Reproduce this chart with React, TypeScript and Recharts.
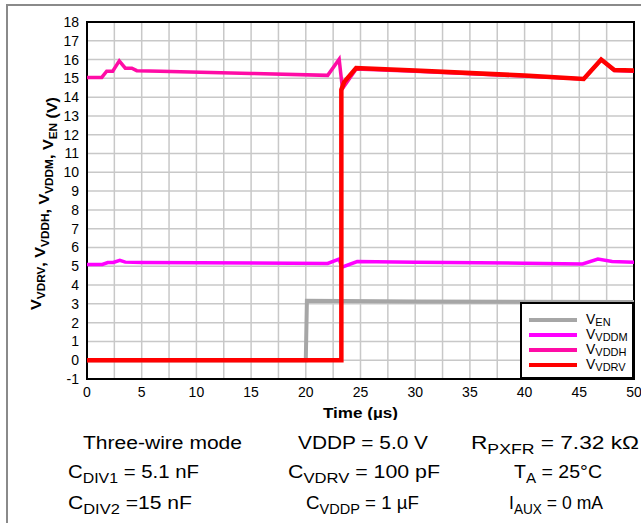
import { CartesianGrid, Label, Line, LineChart, ReferenceArea, XAxis, YAxis } from 'recharts'

// time axis, µs
const timeTicks = [0, 2.5, 5, 7.5, 10, 12.5, 15, 17.5, 20, 22.5, 25, 27.5, 30, 32.5, 35, 37.5, 40, 42.5, 45, 47.5, 50]
const voltTicks = [-1, 0, 1, 2, 3, 4, 5, 6, 7, 8, 9, 10, 11, 12, 13, 14, 15, 16, 17, 18]

const venPoints = [
  { t: 0, v: 0 }, { t: 20, v: 0 }, { t: 20.1, v: 3.16 }, { t: 30, v: 3.13 }, { t: 50, v: 3.1 },
]

const vddmPoints = [
  { t: 0, v: 5.1 }, { t: 1.4, v: 5.1 }, { t: 1.9, v: 5.2 }, { t: 2.4, v: 5.2 }, { t: 3.0, v: 5.32 },
  { t: 3.5, v: 5.22 }, { t: 5, v: 5.2 }, { t: 22, v: 5.15 }, { t: 23.05, v: 5.38 }, { t: 23.3, v: 4.95 },
  { t: 24.7, v: 5.25 }, { t: 30, v: 5.22 }, { t: 40, v: 5.16 }, { t: 45.3, v: 5.12 }, { t: 46.7, v: 5.38 },
  { t: 48, v: 5.25 }, { t: 50, v: 5.22 },
]

const vddhPoints = [
  { t: 0, v: 15.05 }, { t: 1.35, v: 15.05 }, { t: 1.8, v: 15.38 }, { t: 2.35, v: 15.38 }, { t: 2.95, v: 15.93 },
  { t: 3.5, v: 15.54 }, { t: 4.1, v: 15.54 }, { t: 4.55, v: 15.41 }, { t: 6.7, v: 15.38 }, { t: 15, v: 15.26 },
  { t: 22, v: 15.16 }, { t: 23.05, v: 16.02 }, { t: 23.35, v: 14.45 }, { t: 24.6, v: 15.5 }, { t: 30, v: 15.38 },
  { t: 40, v: 15.12 }, { t: 45.4, v: 14.97 }, { t: 47, v: 16.0 }, { t: 48.2, v: 15.42 }, { t: 50, v: 15.38 },
]

const vdrvPoints = [
  { t: 0, v: 0 }, { t: 23.25, v: 0 }, { t: 23.25, v: 14.4 }, { t: 23.5, v: 14.8 }, { t: 24.6, v: 15.55 },
  { t: 30, v: 15.42 }, { t: 40, v: 15.15 }, { t: 45.4, v: 14.97 }, { t: 47, v: 16.0 }, { t: 48.2, v: 15.45 },
  { t: 50, v: 15.42 },
]

const legendItems = [
  { sub: 'EN', color: '#a6a6a6' },
  { sub: 'VDDM', color: '#ff00ff' },
  { sub: 'VDDH', color: '#ff0ca6' },
  { sub: 'VDRV', color: '#ff0000' },
]

const font = 'Arial, "Liberation Sans", sans-serif'

function YTitle(props: any) {
  const vb = props.viewBox
  const cx = vb.x - 6
  const cy = vb.y + vb.height / 2 + 3
  const sub = (s: string) => (
    <>
      <tspan dy={4} fontSize={11}>{s}</tspan>
      <tspan dy={-4}></tspan>
    </>
  )
  return (
    <text x={cx} y={cy} transform={`rotate(-90 ${cx} ${cy})`} textAnchor="middle" fontFamily={font}
      fontWeight="bold" fontSize={15} fill="#000" textLength={213} lengthAdjust="spacingAndGlyphs">
      V{sub('VDRV')}, V{sub('VDDH')}, V{sub('VDDM')}, V{sub('EN')} (V)
    </text>
  )
}

function XTitle(props: any) {
  const vb = props.viewBox
  return (
    <text x={vb.x + vb.width / 2} y={vb.y + 39} textAnchor="middle" fontFamily={font} fontWeight="bold"
      fontSize={15} fill="#000" textLength={75} lengthAdjust="spacingAndGlyphs">
      Time (µs)
    </text>
  )
}

function Note({ x, y, w, main, sub, rest }: { x: number; y: number; w: number; main: string; sub?: string; rest: string }) {
  return (
    <text x={x} y={y} fontFamily={font} fontSize={18} fill="#000" textLength={w} lengthAdjust="spacingAndGlyphs">
      {main}
      {sub ? <tspan dy={5} fontSize={14}>{sub}</tspan> : null}
      <tspan dy={sub ? -5 : 0}>{rest}</tspan>
    </text>
  )
}

export default function App() {
  return (
    <div style={{ position: 'absolute', left: 0, top: 0, width: 641, height: 523, overflow: 'hidden', background: '#fff', fontFamily: font }}>
      <div style={{ position: 'absolute', left: 0, top: 0 }}>
        <LineChart width={641} height={420} margin={{ top: 22, right: 7, left: 47, bottom: 11 }}>
          <CartesianGrid stroke="#c8c8c8" strokeWidth={1.5} />
          <XAxis type="number" dataKey="t" domain={[0, 50]} ticks={timeTicks} interval={0} height={30}
            tickFormatter={(v: number) => (v % 5 === 0 ? String(v) : '')} tickLine={false} axisLine={false}
            tick={{ fill: '#000', fontSize: 14, fontFamily: font }} allowDataOverflow>
            <Label content={XTitle} />
          </XAxis>
          <YAxis type="number" domain={[-1, 18]} ticks={voltTicks} interval={0} width={40} tickLine={false}
            axisLine={false} tick={{ fill: '#000', fontSize: 14, fontFamily: font }} allowDataOverflow>
            <Label content={YTitle} />
          </YAxis>
          <Line data={venPoints} dataKey="v" stroke={legendItems[0].color} strokeWidth={4} dot={false} isAnimationActive={false} />
          <Line data={vddmPoints} dataKey="v" stroke={legendItems[1].color} strokeWidth={3.5} dot={false} isAnimationActive={false} />
          <Line data={vddhPoints} dataKey="v" stroke={legendItems[2].color} strokeWidth={3.5} dot={false} isAnimationActive={false} />
          <Line data={vdrvPoints} dataKey="v" stroke={legendItems[3].color} strokeWidth={4.5} dot={false} isAnimationActive={false} />
          <ReferenceArea x1={0} x2={50} y1={-1} y2={18} fill="none" stroke="#000" strokeWidth={2} ifOverflow="visible" />
        </LineChart>
      </div>
      <div style={{ position: 'absolute', left: 6, top: 4, width: 700, height: 600, borderLeft: '2px solid #8a8a8a', borderTop: '2px solid #8a8a8a', pointerEvents: 'none' }} />
      <div style={{ position: 'absolute', left: 520, top: 302, width: 110, height: 73, border: '2px solid #000', background: '#fff' }}>
        {legendItems.map((it, i) => (
          <div key={it.sub} style={{ position: 'absolute', left: 7, top: 9 + i * 15, height: 13, display: 'flex', alignItems: 'center' }}>
            <div style={{ width: 48, height: 4, background: it.color }} />
            <span style={{ marginLeft: 9, fontSize: 14, color: '#000', lineHeight: '13px', whiteSpace: 'nowrap' }}>
              V<span style={{ fontSize: 11, lineHeight: '11px', position: 'relative', top: 2 }}>{it.sub}</span>
            </span>
          </div>
        ))}
      </div>
      <svg width={641} height={523} style={{ position: 'absolute', left: 0, top: 0, pointerEvents: 'none' }}>
        <Note x={83} y={449} w={159} main="Three-wire mode" rest="" />
        <Note x={298} y={449} w={130} main="VDDP = 5.0 V" rest="" />
        <Note x={471} y={449} w={168} main="R" sub="PXFR" rest=" = 7.32 kΩ" />
        <Note x={68} y={478} w={131} main="C" sub="DIV1" rest=" = 5.1 nF" />
        <Note x={288} y={478} w={152} main="C" sub="VDRV" rest=" = 100 pF" />
        <Note x={514} y={478} w={88} main="T" sub="A" rest=" = 25°C" />
        <Note x={68} y={509} w={124} main="C" sub="DIV2" rest=" =15 nF" />
        <Note x={306} y={509} w={113} main="C" sub="VDDP" rest=" = 1 µF" />
        <Note x={509} y={509} w={94} main="I" sub="AUX" rest=" = 0 mA" />
      </svg>
    </div>
  )
}
